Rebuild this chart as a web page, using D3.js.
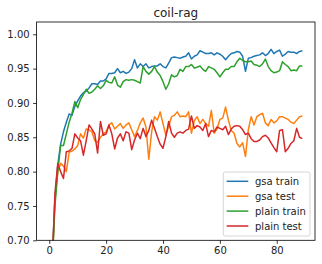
<!DOCTYPE html>
<html><head><meta charset="utf-8">
<script src="https://cdn.jsdelivr.net/npm/d3@7"></script>
<style>body{margin:0;background:#fff}svg{display:block}</style>
</head><body>
<svg id="c" width="322" height="264"></svg>
<script>
const title = "coil-rag";
const seriesNames = ["gsa train", "gsa test", "plain train", "plain test"];
const seriesColors = ["#1f77b4", "#ff7f0e", "#2ca02c", "#d62728"];
const xTicks = [0, 20, 40, 60, 80];
const yTicks = [0.70, 0.75, 0.80, 0.85, 0.90, 0.95, 1.00];

const gsaTrain = [0.18,0.67,0.76,0.81,0.84,0.858,0.872,0.884,0.882,0.895,0.903,0.910,0.915,0.917,0.922,0.928,0.928,0.927,0.932,0.932,
0.935,0.943,0.943,0.944,0.950,0.944,0.946,0.943,0.945,0.950,0.963,0.951,0.957,0.953,0.957,0.951,0.953,0.954,0.954,0.957,
0.953,0.951,0.958,0.966,0.967,0.966,0.965,0.967,0.968,0.973,0.964,0.968,0.970,0.976,0.974,0.972,0.972,0.973,0.970,0.973,
0.971,0.968,0.963,0.968,0.972,0.973,0.975,0.974,0.968,0.946,0.965,0.966,0.968,0.969,0.970,0.973,0.969,0.972,0.978,0.972,
0.975,0.977,0.968,0.971,0.975,0.974,0.974,0.972,0.975,0.976];
const gsaTest = [0.18,0.66,0.76,0.80,0.812,0.808,0.800,0.828,0.830,0.833,0.838,0.855,0.849,0.862,0.861,0.858,0.845,0.843,0.850,0.855,
0.858,0.868,0.871,0.862,0.866,0.870,0.863,0.868,0.871,0.861,0.851,0.860,0.871,0.878,0.865,0.818,0.858,0.880,0.875,0.887,
0.870,0.853,0.866,0.880,0.882,0.887,0.880,0.881,0.880,0.887,0.856,0.874,0.880,0.870,0.876,0.870,0.866,0.889,0.856,0.862,
0.876,0.878,0.894,0.875,0.860,0.856,0.841,0.836,0.842,0.822,0.861,0.880,0.868,0.880,0.883,0.885,0.871,0.867,0.876,0.871,
0.874,0.880,0.880,0.878,0.876,0.872,0.870,0.875,0.880,0.881];
const plainTrain = [0.18,0.66,0.75,0.80,0.838,0.838,0.855,0.872,0.885,0.902,0.893,0.905,0.912,0.920,0.914,0.916,0.920,0.925,0.921,0.925,
0.933,0.930,0.929,0.938,0.926,0.923,0.931,0.934,0.933,0.934,0.933,0.931,0.929,0.953,0.946,0.942,0.946,0.953,0.945,0.940,
0.931,0.920,0.928,0.941,0.938,0.940,0.949,0.946,0.953,0.953,0.956,0.951,0.952,0.954,0.949,0.946,0.953,0.951,0.949,0.944,
0.938,0.944,0.949,0.949,0.953,0.953,0.960,0.965,0.962,0.960,0.960,0.961,0.956,0.955,0.953,0.957,0.964,0.953,0.947,0.944,
0.945,0.947,0.960,0.956,0.953,0.947,0.948,0.947,0.954,0.954];
const plainTest = [0.18,0.66,0.768,0.812,0.800,0.790,0.829,0.830,0.834,0.855,0.849,0.845,0.824,0.845,0.868,0.862,0.855,0.827,0.873,0.853,
0.855,0.868,0.855,0.833,0.849,0.855,0.845,0.858,0.856,0.832,0.846,0.856,0.848,0.863,0.851,0.860,0.875,0.863,0.851,0.840,
0.834,0.851,0.873,0.856,0.850,0.856,0.858,0.856,0.860,0.862,0.881,0.863,0.867,0.865,0.860,0.870,0.851,0.860,0.858,0.865,
0.863,0.861,0.866,0.854,0.862,0.866,0.867,0.866,0.861,0.854,0.856,0.848,0.844,0.844,0.846,0.851,0.853,0.849,0.842,0.835,
0.829,0.860,0.861,0.829,0.834,0.841,0.845,0.863,0.850,0.848];
const allSeries = [gsaTrain, gsaTest, plainTrain, plainTest];

const L = 36.6, R = 315, T = 22, B = 240.3;
const svg = d3.select("#c");
const font = "DejaVu Sans, sans-serif";
const x = d3.scaleLinear().domain([-4.45, 93.45]).range([L, R]);
const y = d3.scaleLinear().domain([0.70, 1.0179]).range([B, T]);

svg.append("defs").append("clipPath").attr("id","clip")
  .append("rect").attr("x",L).attr("y",T).attr("width",R-L).attr("height",B-T);

const line = d3.line().x((d,i)=>x(i)).y(d=>y(d));
const g = svg.append("g").attr("clip-path","url(#clip)");
allSeries.forEach((s,k)=>{
  g.append("path").datum(s).attr("d",line).attr("fill","none")
   .attr("stroke",seriesColors[k]).attr("stroke-width",1.5).attr("stroke-linejoin","round");
});

const xAxis = svg.append("g").attr("transform",`translate(0,${B})`)
  .call(d3.axisBottom(x).tickValues(xTicks).tickSize(3.5).tickPadding(3.5).tickFormat(d3.format("d")));
const yAxis = svg.append("g").attr("transform",`translate(${L},0)`)
  .call(d3.axisLeft(y).tickValues(yTicks).tickSize(3.5).tickPadding(3.5).tickFormat(d3.format(".2f")));
[xAxis,yAxis].forEach(a=>{
  a.select(".domain").remove();
  a.selectAll(".tick line").attr("stroke","#000").attr("stroke-width",0.8);
  a.selectAll(".tick text").attr("fill","#222").style("font-family",font).style("font-size","10px");
});
svg.append("rect").attr("x",L).attr("y",T).attr("width",R-L).attr("height",B-T)
  .attr("fill","none").attr("stroke","#000").attr("stroke-width",0.8);

svg.append("text").attr("x",(L+R)/2).attr("y",16.5).attr("text-anchor","middle")
  .style("font-family",font).style("font-size","12px").attr("fill","#222").text(title);

const lg = svg.append("g");
lg.append("rect").attr("x",223.3).attr("y",172).attr("width",86.7).attr("height",64).attr("rx",2)
  .attr("fill","#fff").attr("fill-opacity",0.8).attr("stroke","#ccc").attr("stroke-width",0.8);
seriesNames.forEach((n,k)=>{
  const yy = 181.3 + k*14.9;
  lg.append("line").attr("x1",226.7).attr("x2",248.3).attr("y1",yy).attr("y2",yy)
    .attr("stroke",seriesColors[k]).attr("stroke-width",1.5);
  lg.append("text").attr("x",255).attr("y",yy+3.6).style("font-family",font).style("font-size","10px")
    .attr("fill","#222").text(n);
});
</script>
</body></html>
